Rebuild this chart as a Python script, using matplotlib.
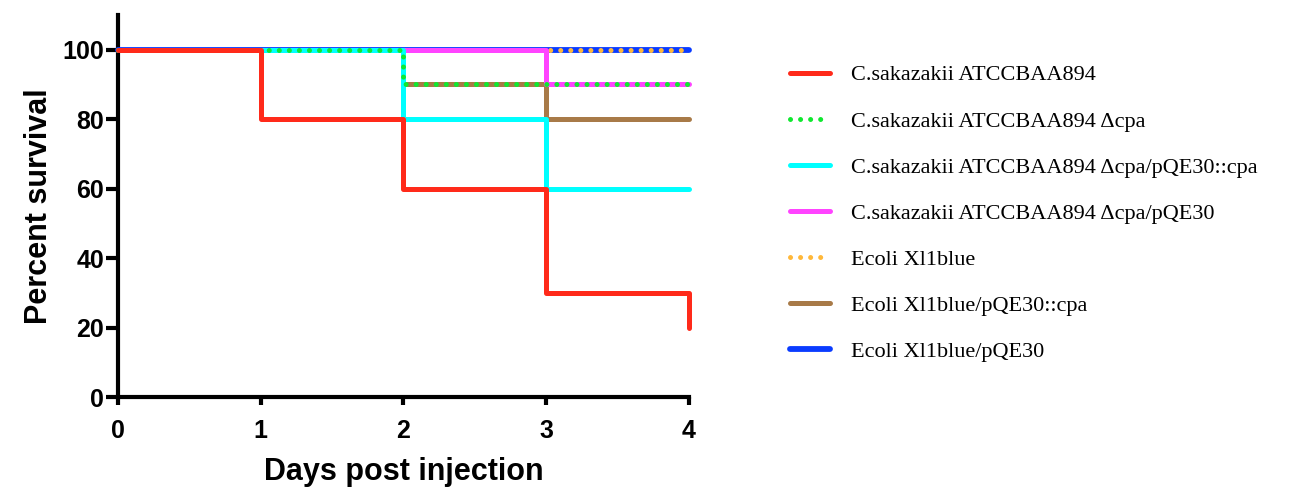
import matplotlib
matplotlib.use('Agg')
import matplotlib.pyplot as plt

# Survival data (percent) at each day, step drawn post
days = [0, 1, 2, 3, 4]
cs_wt = [100, 80, 60, 30, 20]
cs_dcpa = [100, 100, 90, 90, 90]
cs_dcpa_comp = [100, 100, 80, 60, 60]
cs_dcpa_vec = [100, 100, 100, 90, 90]
ec_xl1 = [100, 100, 100, 100, 100]
ec_xl1_cpa = [100, 100, 90, 80, 80]
ec_xl1_vec = [100, 100, 100, 100, 100]

labels = ['C.sakazakii ATCCBAA894',
          'C.sakazakii ATCCBAA894 Δcpa',
          'C.sakazakii ATCCBAA894 Δcpa/pQE30::cpa',
          'C.sakazakii ATCCBAA894 Δcpa/pQE30',
          'Ecoli Xl1blue',
          'Ecoli Xl1blue/pQE30::cpa',
          'Ecoli Xl1blue/pQE30']

plt.rcParams['font.family'] = ['Liberation Sans', 'DejaVu Sans']

fig = plt.figure(figsize=(12.92, 4.93), dpi=100)
ax = fig.add_axes([0.0913, 0.1947, 0.442, 0.775])

lw = 3.6
dot = (0, (0.01, 2.0))
# draw order (bottom to top) as in the original; last item = legend index
series = [
    (ec_xl1_vec, '#0a3cff', '-', 6, lw + 0.6),
    (ec_xl1, '#ffb83a', dot, 4, lw),
    (ec_xl1_cpa, '#a87a48', '-', 5, lw),
    (cs_dcpa_vec, '#ff44ff', '-', 3, lw),
    (cs_dcpa_comp, '#00ffff', '-', 2, lw),
    (cs_dcpa, '#10e830', dot, 1, lw),
    (cs_wt, '#ff2a1a', '-', 0, lw),
]
handles = [None] * 7
z = 3
for y, c, ls, idx, w in series:
    ln, = ax.step(days, y, where='post', color=c, linestyle=ls, linewidth=w,
                  dash_capstyle='round', solid_capstyle='round', clip_on=False,
                  zorder=z)
    z += 1
    handles[idx] = ln

ax.set_xlim(0, 4)
ax.set_ylim(0, 110)
ax.set_xticks([0, 1, 2, 3, 4])
ax.set_yticks([0, 20, 40, 60, 80, 100])
for s in ['top', 'right']:
    ax.spines[s].set_visible(False)
for s in ['left', 'bottom']:
    ax.spines[s].set_linewidth(3)
ax.tick_params(axis='y', width=3, length=9, direction='out', labelsize=18, pad=1)
ax.tick_params(axis='x', width=3, length=6, direction='out', labelsize=18, pad=10)
for t in ax.get_xticklabels() + ax.get_yticklabels():
    t.set_fontweight('bold')
ax.set_xlabel('Days post injection', fontsize=22, fontweight='bold', labelpad=10)
ax.set_ylabel('Percent survival', fontsize=22, fontweight='bold', labelpad=6)

leg = fig.legend(handles, labels, loc='upper left', bbox_to_anchor=(0.596, 0.909),
                 frameon=False, handlelength=1.8, handletextpad=0.95,
                 labelspacing=1.15, prop={'family': 'Liberation Serif', 'size': 16})

fig.savefig('out.png', dpi=100, facecolor='white')
